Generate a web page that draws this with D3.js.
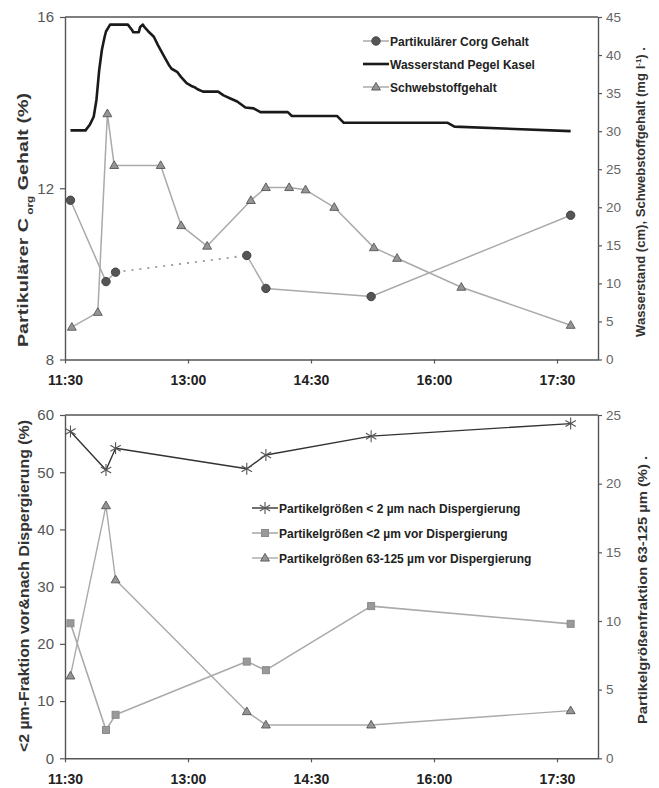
<!DOCTYPE html>
<html>
<head>
<meta charset="utf-8">
<script src="https://cdn.jsdelivr.net/npm/d3@7"></script>
<style>
  body { margin: 0; background: #fff; }
  svg { display: block; font-family: "Liberation Sans", Arial, sans-serif; }
</style>
</head>
<body>
<div class="chart"></div>
<script>
// ---- data ----
// sampling times (Corg and particle size samples)
var sampleTimes = ["11:34", "12:00", "12:07", "13:43", "13:57", "15:14", "17:40"];
var corgValues = [11.72, 9.82, 10.04, 10.43, 9.66, 9.47, 11.37];   // %
var corgDottedFrom = 2;   // gap between sample 3 and 4 drawn dotted

var schwebTimes = ["11:35", "11:54", "12:01", "12:06", "12:40", "12:55", "13:14", "13:46",
                   "13:57", "14:14", "14:26", "14:47", "15:16", "15:33", "16:20", "17:40"];
var schwebValues = [4.25, 6.2, 32.3, 25.5, 25.5, 17.6, 14.9, 20.9,
                    22.6, 22.6, 22.3, 20.0, 14.7, 13.3, 9.5, 4.5];   // mg/l

var pegelTimes = ["11:34", "11:45", "11:48", "11:51", "11:53", "11:55", "11:57", "11:59", "12:00",
                  "12:03", "12:16", "12:19", "12:20", "12:24", "12:25", "12:27", "12:28", "12:31",
                  "12:35", "12:38", "12:42", "12:46", "12:48", "12:52", "12:55", "12:59", "13:03",
                  "13:05", "13:07", "13:11", "13:22", "13:26", "13:31", "13:36", "13:42", "13:48",
                  "13:53", "14:13", "14:16", "14:49", "14:54", "16:10", "16:15", "17:40"];
var pegelValues = [30.1, 30.1, 30.8, 31.9, 34.1, 38.0, 40.7, 42.4, 43.1,
                   44.0, 44.0, 43.3, 43.0, 43.0, 43.7, 44.0, 43.7, 43.1,
                   42.4, 41.3, 40.0, 38.7, 38.2, 37.8, 37.1, 36.3, 35.9,
                   35.75, 35.5, 35.2, 35.2, 34.7, 34.3, 33.9, 33.1, 33.0,
                   32.5, 32.5, 32.0, 32.0, 31.1, 31.1, 30.6, 30.0];   // cm

var nachValues = [57.1, 50.4, 54.2, 50.6, 53.0, 56.3, 58.5];     // % < 2 µm after dispersion
var vorValues = [23.6, 4.95, 7.6, 16.9, 15.4, 26.6, 23.5];       // % < 2 µm before dispersion
var grobValues = [6.0, 18.4, 13.0, 3.4, 2.43, 2.43, 3.47];       // % 63-125 µm

var xTicks = ["11:30", "13:00", "14:30", "16:00", "17:30"];
var xDomain = ["11:30", "18:00"];

// ---- setup ----
var width = 659, height = 788;
var parse = d3.timeParse("%H:%M");
var axisColor = "#555", grey = "#aaa";

var svg = d3.select(".chart").append("svg")
    .attr("width", width)
    .attr("height", height);

var x = d3.scaleTime().domain(xDomain.map(parse)).range([65, 598]);

function star(size) {
    var r = size, a = r * Math.cos(Math.PI / 6), b = r * Math.sin(Math.PI / 6);
    return "M0," + (-r) + "L0," + r +
           "M" + (-a) + "," + (-b) + "L" + a + "," + b +
           "M" + (-a) + "," + b + "L" + a + "," + (-b);
}

function marker(g, type, cx, cy) {
    if (type == "circle") {
        g.append("circle").attr("cx", cx).attr("cy", cy).attr("r", 4.2)
            .attr("fill", "#555").attr("stroke", "#444");
    } else if (type == "triangle") {
        g.append("path").attr("d", d3.symbol(d3.symbolTriangle, 34)())
            .attr("transform", "translate(" + cx + "," + (cy + 0.5) + ")")
            .attr("fill", "#959595").attr("stroke", "#555").attr("stroke-width", 0.9);
    } else if (type == "square") {
        g.append("rect").attr("x", cx - 3.5).attr("y", cy - 3.5).attr("width", 7).attr("height", 7)
            .attr("fill", "#999").attr("stroke", "#8a8a8a");
    } else if (type == "star") {
        g.append("path").attr("d", star(6))
            .attr("transform", "translate(" + cx + "," + cy + ")")
            .attr("fill", "none").attr("stroke", "#555").attr("stroke-width", 1.1);
    }
}

function series(g, times, values, yScale, opts) {
    var pts = times.map(function(t, i) { return [x(parse(t)), yScale(values[i])]; });
    var line = d3.line();
    if (opts.dotFrom != null) {
        g.append("path").attr("d", line(pts.slice(0, opts.dotFrom + 1)))
            .attr("fill", "none").attr("stroke", opts.color).attr("stroke-width", opts.width);
        g.append("path").attr("d", line(pts.slice(opts.dotFrom, opts.dotFrom + 2)))
            .attr("fill", "none").attr("stroke", "#999").attr("stroke-width", 1.8)
            .attr("stroke-dasharray", "2,6");
        g.append("path").attr("d", line(pts.slice(opts.dotFrom + 1)))
            .attr("fill", "none").attr("stroke", opts.color).attr("stroke-width", opts.width);
    } else {
        g.append("path").attr("d", line(pts))
            .attr("fill", "none").attr("stroke", opts.color).attr("stroke-width", opts.width)
            .attr("stroke-linejoin", "round");
    }
    if (opts.marker) {
        pts.forEach(function(p) { marker(g, opts.marker, p[0], p[1]); });
    }
}

function styleAxis(g, fontSize, bold, color) {
    g.select(".domain").attr("stroke", axisColor).attr("stroke-width", 1.4);
    g.selectAll(".tick line").attr("stroke", axisColor).attr("stroke-width", 1.2);
    g.selectAll(".tick text")
        .attr("fill", color)
        .style("font-size", fontSize + "px")
        .style("font-weight", bold ? "bold" : "normal");
}

function drawPanel(p) {
    var g = svg.append("g");
    // top frame line
    g.append("line").attr("x1", 65).attr("x2", 598).attr("y1", p.top).attr("y2", p.top)
        .attr("stroke", axisColor).attr("stroke-width", 1.4);

    var xa = g.append("g").attr("transform", "translate(0," + p.bottom + ")")
        .call(d3.axisBottom(x).tickValues(xTicks.map(parse)).tickFormat(d3.timeFormat("%H:%M"))
            .tickSize(4).tickSizeOuter(0).tickPadding(12));
    styleAxis(xa, 14, true, "#222");

    var la = g.append("g").attr("transform", "translate(65,0)")
        .call(d3.axisLeft(p.yL).tickValues(p.yLTicks).tickSize(5).tickSizeOuter(0).tickPadding(6));
    styleAxis(la, 15, false, "#555");

    var ra = g.append("g").attr("transform", "translate(598,0)")
        .call(d3.axisRight(p.yR).tickValues(p.yRTicks).tickSize(4).tickSizeOuter(0).tickPadding(4));
    styleAxis(ra, 13.5, false, "#666");
    return g;
}

function axisTitle(g, cx, cy, len, size, parts) {
    var t = g.append("text")
        .attr("transform", "translate(" + cx + "," + cy + ") rotate(-90)")
        .attr("text-anchor", "middle")
        .style("font-size", size + "px")
        .style("font-weight", "bold")
        .attr("fill", "#333");
    parts.forEach(function(p) {
        var s = t.append("tspan").text(p.text);
        if (p.shift) s.attr("baseline-shift", p.shift).style("font-size", (size * 0.6) + "px");
    });
    t.attr("textLength", len).attr("lengthAdjust", "spacingAndGlyphs");
}

function legend(g, x0, y0, step, items) {
    items.forEach(function(it, i) {
        var y = y0 + i * step;
        g.append("line").attr("x1", x0).attr("x2", x0 + 26).attr("y1", y).attr("y2", y)
            .attr("stroke", it.color).attr("stroke-width", it.width);
        if (it.marker) marker(g, it.marker, x0 + 13, y);
        g.append("text").attr("x", x0 + 27).attr("y", y + 4.5)
            .style("font-size", "12px").style("font-weight", "bold").attr("fill", "#222")
            .text(it.label);
    });
}

// ---- top panel ----
var yTopL = d3.scaleLinear().domain([8, 16]).range([359.5, 17]);
var yTopR = d3.scaleLinear().domain([0, 45]).range([359.5, 17]);
var topPanel = drawPanel({ top: 17, bottom: 359.5, yL: yTopL, yR: yTopR,
                      yLTicks: [8, 12, 16], yRTicks: d3.range(0, 46, 5) });

series(topPanel, pegelTimes, pegelValues, yTopR, { color: "#1a1a1a", width: 2.6 });
series(topPanel, schwebTimes, schwebValues, yTopR, { color: grey, width: 1.5, marker: "triangle" });
series(topPanel, sampleTimes, corgValues, yTopL, { color: grey, width: 1.5, marker: "circle", dotFrom: corgDottedFrom });

legend(topPanel, 363, 41, 23, [
    { label: "Partikulärer Corg Gehalt", color: grey, width: 1.5, marker: "circle" },
    { label: "Wasserstand Pegel Kasel", color: "#1a1a1a", width: 2.6 },
    { label: "Schwebstoffgehalt", color: grey, width: 1.5, marker: "triangle" }
]);

axisTitle(topPanel, 28, 220, 254, 14, [
    { text: "Partikulärer C" }, { text: " org", shift: "sub" }, { text: " Gehalt (%)" }
]);
axisTitle(topPanel, 645, 192, 290, 12, [
    { text: "Wasserstand (cm), Schwebstoffgehalt (mg l" }, { text: "-1", shift: "super" }, { text: ")   ." }
]);

// ---- bottom panel ----
var yBotL = d3.scaleLinear().domain([0, 60]).range([758.3, 415]);
var yBotR = d3.scaleLinear().domain([0, 25]).range([758.3, 415]);
var botPanel = drawPanel({ top: 415, bottom: 758.3, yL: yBotL, yR: yBotR,
                      yLTicks: d3.range(0, 61, 10), yRTicks: d3.range(0, 26, 5) });

series(botPanel, sampleTimes, grobValues, yBotR, { color: grey, width: 1.4, marker: "triangle" });
series(botPanel, sampleTimes, vorValues, yBotL, { color: grey, width: 1.6, marker: "square" });
series(botPanel, sampleTimes, nachValues, yBotL, { color: "#333", width: 1.4, marker: "star" });

legend(botPanel, 252, 508, 25, [
    { label: "Partikelgrößen < 2 µm nach Dispergierung", color: "#333", width: 1.4, marker: "star" },
    { label: "Partikelgrößen <2 µm vor Dispergierung", color: grey, width: 1.6, marker: "square" },
    { label: "Partikelgrößen 63-125 µm vor Dispergierung", color: grey, width: 1.4, marker: "triangle" }
]);

axisTitle(botPanel, 29, 586, 332, 14, [ { text: "<2 µm-Fraktion vor&nach Dispergierung (%)" } ]);
axisTitle(botPanel, 647, 590, 268, 12, [ { text: "Partikelgrößenfraktion 63-125 µm (%)   ." } ]);
</script>
</body>
</html>
